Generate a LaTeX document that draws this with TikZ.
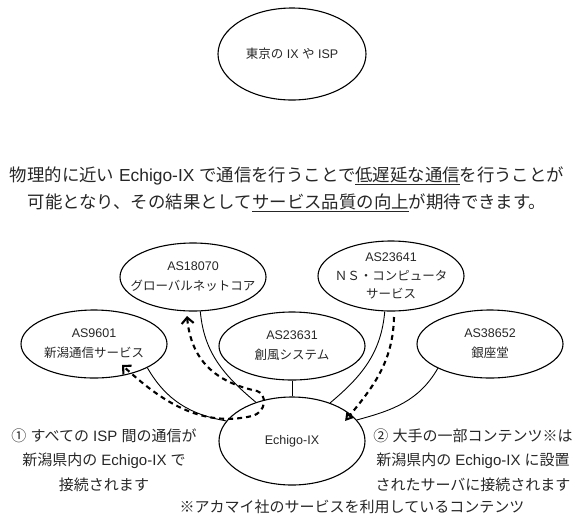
\documentclass[tikz,border=0pt]{standalone}
\usepackage{fontspec}
\setmainfont{Noto Sans CJK JP}
\newfontfamily\ltnfont{Liberation Sans}
\newcommand{\ltn}[1]{{\ltnfont #1}}
\usetikzlibrary{shapes.geometric,arrows.meta}
\begin{document}
\begin{tikzpicture}[x=1pt,y=-1pt,
  ell/.style={draw, ellipse, line width=1.1pt, minimum width=146pt, minimum height=68pt, inner sep=0pt},
  lbl/.style={align=center, font=\fontsize{12.5}{20}\selectfont, text=black!85},
  conn/.style={line width=0.9pt},
  dsh/.style={line width=2.1pt, dash pattern=on 5pt off 4pt},
  note/.style={align=center, font=\fontsize{15}{24.5}\selectfont, text=black!85}]
\useasboundingbox (0,0) rectangle (575,515);

\node[ell, minimum width=148pt, minimum height=92pt, label={[lbl]center:東京の\ltn{ IX }や\ltn{ ISP}}] (tokyo) at (292,54) {};

\node[note, font=\fontsize{17.4}{27}\selectfont] (msg) at (287,189) {物理的に近い\ltn{ Echigo-IX }で通信を行うことで\underline{低遅延な通信}を行うことが\\可能となり、その結果として\underline{サービス品質の向上}が期待できます。};

\node[ell, label={[lbl]center:{\ltn{AS18070}\\グローバルネットコア}}] (n18070) at (193,277) {};
\node[ell, label={[lbl]center:{\ltn{AS9601}\\新潟通信サービス}}] (n9601) at (94,344) {};
\node[ell, label={[lbl]center:{\ltn{AS23631}\\創風システム}}] (n23631) at (292,346) {};
\node[ell, minimum height=70pt, label={[lbl, font=\fontsize{12.5}{18.5}\selectfont]center:{\ltn{AS23641}\\ＮＳ・コンピュータ\\サービス}}] (n23641) at (391,276) {};
\node[ell, label={[lbl]center:{\ltn{AS38652}\\銀座堂}}] (n38652) at (490,344) {};
\node[ell, minimum height=88pt, label={[lbl]center:\ltn{Echigo-IX}}] (echigo) at (292,441) {};

\draw[conn] (n9601.-24) to[out=-60,in=170] (echigo.163);
\draw[conn] (n18070.-78) to[out=-85,in=140] (echigo.133);
\draw[conn] (n23631.south) -- (echigo.north);
\draw[conn] (n23641.-100) to[out=-95,in=40] (echigo.45);
\draw[conn] (n38652.205) to[out=-120,in=15] (echigo.18);

\coordinate (a1) at (187,316);
\coordinate (a2) at (122,365);
\draw[dsh, {Straight Barb[length=6pt,width=12pt]}-{Straight Barb[length=6pt,width=12pt]}] (a1) .. controls (191,360) and (215,382) .. (257,391) .. controls (267,394) and (267,412) .. (252,416) .. controls (200,428) and (160,400) .. (a2);

\coordinate (b1) at (394,317);
\coordinate (b2) at (345,421);
\draw[dsh, -{Triangle[open,length=8pt,width=9pt]}] (b1) .. controls (393,360) and (375,385) .. (b2);

\node[note] (note1) at (104,460) {①\ltn{ }すべての\ltn{ ISP }間の通信が\\新潟県内の\ltn{ Echigo-IX }で\\接続されます};
\node[note] (note2) at (473,460) {②\ltn{ }大手の一部コンテンツ※は\\新潟県内の\ltn{ Echigo-IX }に設置\\されたサーバに接続されます};
\node[note] (note3) at (352,507) {※アカマイ社のサービスを利用しているコンテンツ};
\end{tikzpicture}
\end{document}
